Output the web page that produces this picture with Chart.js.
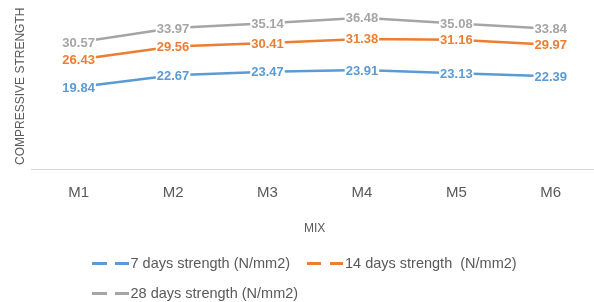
<!DOCTYPE html>
<html>
<head>
<meta charset="utf-8">
<script src="https://cdn.jsdelivr.net/npm/chart.js@4.4.1/dist/chart.umd.min.js"></script>
<style>
    html, body { margin: 0; padding: 0; background: #fff; overflow: hidden; }
    #wrap { position: relative; width: 594px; height: 302px; overflow: hidden; }
    #mixChart { position: absolute; left: 0; top: 0; }
    #legend {
        position: absolute; left: 92px; top: 248px; width: 440px;
        display: flex; flex-wrap: wrap;
        font-family: "Liberation Sans", Arial, sans-serif; font-size: 14.5px; color: #595959;
    }
    .item { width: 214.5px; height: 30px; display: flex; align-items: center; white-space: pre; }
    .seg { display: inline-block; height: 3px; }
</style>
</head>
<body>
<div id="wrap">
    <canvas id="mixChart" width="600" height="302"></canvas>
    <div id="legend"></div>
</div>
<script>
// data
const mixes = ['M1', 'M2', 'M3', 'M4', 'M5', 'M6'];
const strength7 = [19.84, 22.67, 23.47, 23.91, 23.13, 22.39];
const strength14 = [26.43, 29.56, 30.41, 31.38, 31.16, 29.97];
const strength28 = [30.57, 33.97, 35.14, 36.48, 35.08, 33.84];
const seriesNames = ['7 days strength (N/mm2)', '14 days strength  (N/mm2)', '28 days strength (N/mm2)'];
const seriesColors = ['#5B9BD5', '#ED7D31', '#A5A5A5'];

const textGray = '#595959';
const fontFamily = '"Liberation Sans", Arial, sans-serif';

// value labels with a white box, centred on each point
const valueLabels = {
    id: 'valueLabels',
    afterDatasetsDraw(chart) {
        const ctx = chart.ctx;
        ctx.save();
        ctx.font = 'bold 13px ' + fontFamily;
        ctx.textAlign = 'center';
        ctx.textBaseline = 'middle';
        chart.data.datasets.forEach(function (ds, i) {
            const meta = chart.getDatasetMeta(i);
            meta.data.forEach(function (pt, j) {
                const txt = ds.data[j].toFixed(2);
                const w = ctx.measureText(txt).width;
                ctx.fillStyle = '#fff';
                ctx.fillRect(pt.x - w / 2 - 1, pt.y - 7, w + 2, 14);
                ctx.fillStyle = ds.borderColor;
                ctx.fillText(txt, pt.x, pt.y + 1);
            });
        });
        ctx.restore();
    }
};

const datasets = [strength7, strength14, strength28].map(function (vals, i) {
    return {
        label: seriesNames[i],
        data: vals,
        borderColor: seriesColors[i],
        backgroundColor: seriesColors[i],
        borderWidth: 2.5,
        pointRadius: 0,
        tension: 0,
        fill: false
    };
});

const chart = new Chart(document.getElementById('mixChart').getContext('2d'), {
    type: 'line',
    data: { labels: mixes, datasets: datasets },
    options: {
        responsive: false,
        animation: false,
        layout: { padding: { left: 12, top: 3, right: 2, bottom: 66 } },
        plugins: {
            legend: { display: false },
            tooltip: { enabled: false }
        },
        scales: {
            x: {
                offset: true,
                grid: { display: false, drawTicks: false, offset: true },
                border: { display: true, color: '#D9D9D9', width: 1 },
                ticks: { color: textGray, padding: 14, font: { family: fontFamily, size: 15 } },
                title: {
                    display: true, text: 'MIX', color: textGray,
                    font: { family: fontFamily, size: 12 },
                    padding: { top: 6, bottom: 0 }
                }
            },
            y: {
                min: 0,
                max: 40,
                grid: { display: false, drawTicks: false },
                border: { display: false },
                ticks: { display: false },
                title: {
                    display: true, text: 'COMPRESSIVE STRENGTH', color: textGray,
                    font: { family: fontFamily, size: 12 },
                    padding: { top: 1, bottom: 4 }
                }
            }
        }
    },
    plugins: [valueLabels]
});

// legend laid out like the Excel one: left-aligned rows, split key line
const legend = document.getElementById('legend');
chart.data.datasets.forEach(function (ds) {
    const item = document.createElement('div');
    item.className = 'item';
    item.innerHTML =
        '<span class="seg" style="width:14.5px;background:' + ds.borderColor + '"></span>' +
        '<span class="seg" style="width:13.5px;margin-left:8.5px;margin-right:2px;background:' + ds.borderColor + '"></span>' +
        '<span></span>';
    item.lastChild.textContent = ds.label;
    legend.appendChild(item);
});
</script>
</body>
</html>
